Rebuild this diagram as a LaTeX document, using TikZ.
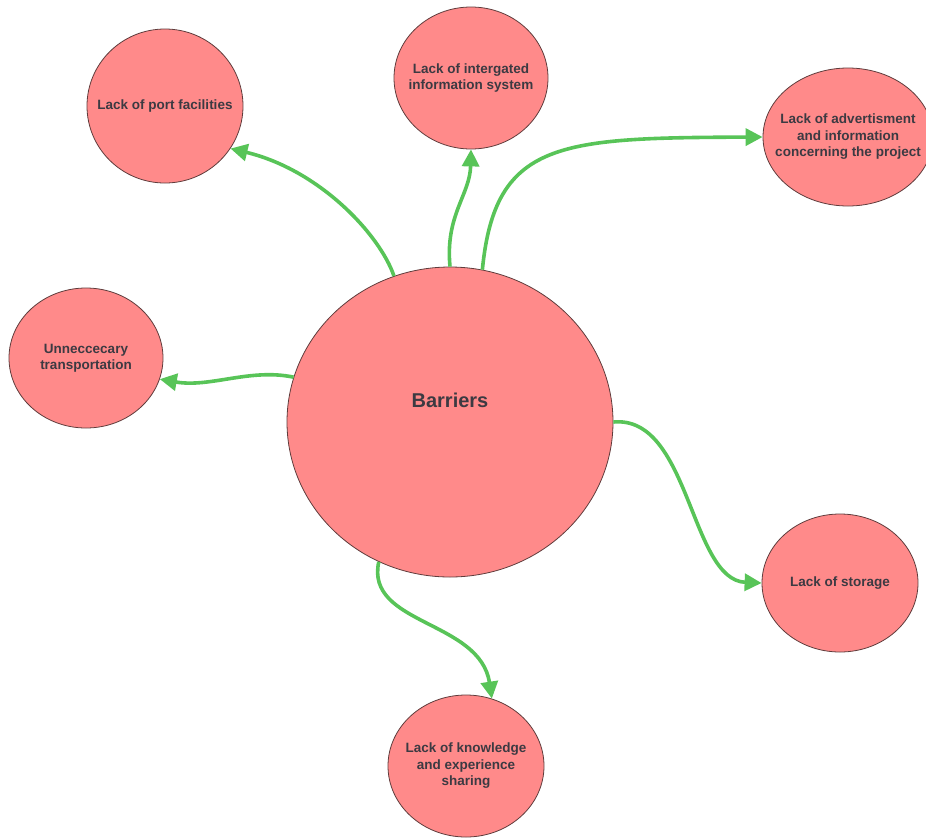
\documentclass[tikz,border=0pt]{standalone}
\usepackage{fontspec}
\setmainfont{Liberation Sans}
\usetikzlibrary{shapes.geometric,arrows.meta}
\definecolor{blobfill}{RGB}{255,138,138}
\definecolor{blobline}{RGB}{95,60,60}
\definecolor{blobtext}{RGB}{60,58,66}
\definecolor{linkgreen}{RGB}{88,196,88}
\tikzset{
  blob/.style={ellipse, draw=blobline, line width=0.8pt, fill=blobfill,
    inner sep=0pt},
  blobtxt/.style={text=blobtext, align=center, inner sep=0pt,
    font=\bfseries\fontsize{13.5}{16.5}\selectfont},
  bigtext/.style={text=blobtext, font=\bfseries\fontsize{20}{24}\selectfont},
  link/.style={draw=linkgreen, line width=3.6pt,
    -{Triangle[length=17pt,width=17pt]}}
}
\begin{document}
\begin{tikzpicture}[x=1pt,y=-1pt]
\useasboundingbox (0,0) rectangle (926,839);

% central topic
\node[blob, minimum width=326pt, minimum height=310pt] (bar) at (450,422) {};
\node[bigtext] (bartext) at (450,400) {Barriers};

% surrounding barriers (ellipse size fixed, caption centred on it)
\node[blob, minimum width=156pt, minimum height=154pt,
  label={[blobtxt]center:Lack of port facilities}] (port) at (165,106) {};
\node[blob, minimum width=154pt, minimum height=142pt,
  label={[blobtxt]center:Lack of intergated\\information system}] (info) at (471,78) {};
\node[blob, minimum width=170pt, minimum height=138pt,
  label={[blobtxt]center:Lack of advertisment\\and information\\concerning the project}] (adv) at (848,137) {};
\node[blob, minimum width=154pt, minimum height=140pt,
  label={[blobtxt]center:Unneccecary\\transportation}] (trans) at (86,358) {};
\node[blob, minimum width=156pt, minimum height=138pt,
  label={[blobtxt]center:Lack of storage}] (stor) at (840,583) {};
\node[blob, minimum width=156pt, minimum height=142pt,
  label={[blobtxt]center:Lack of knowledge\\and experience\\sharing}] (know) at (466,766) {};

% connectors
\draw[link] (bar.111) .. controls (380,235) and (320,170) .. (port.-33);
\draw[link] (bar.90) .. controls (445,215) and (470,195) .. (info.270);
\draw[link] (bar.78) .. controls (495,140) and (560,138) .. (adv.180);
\draw[link] (bar.164) .. controls (250,368) and (210,388) .. (trans.-16);
\draw[link] (bar.0) .. controls (690,415) and (690,580) .. (stor.180);
\draw[link] (bar.243) .. controls (365,625) and (480,620) .. (know.69);
\end{tikzpicture}
\end{document}
